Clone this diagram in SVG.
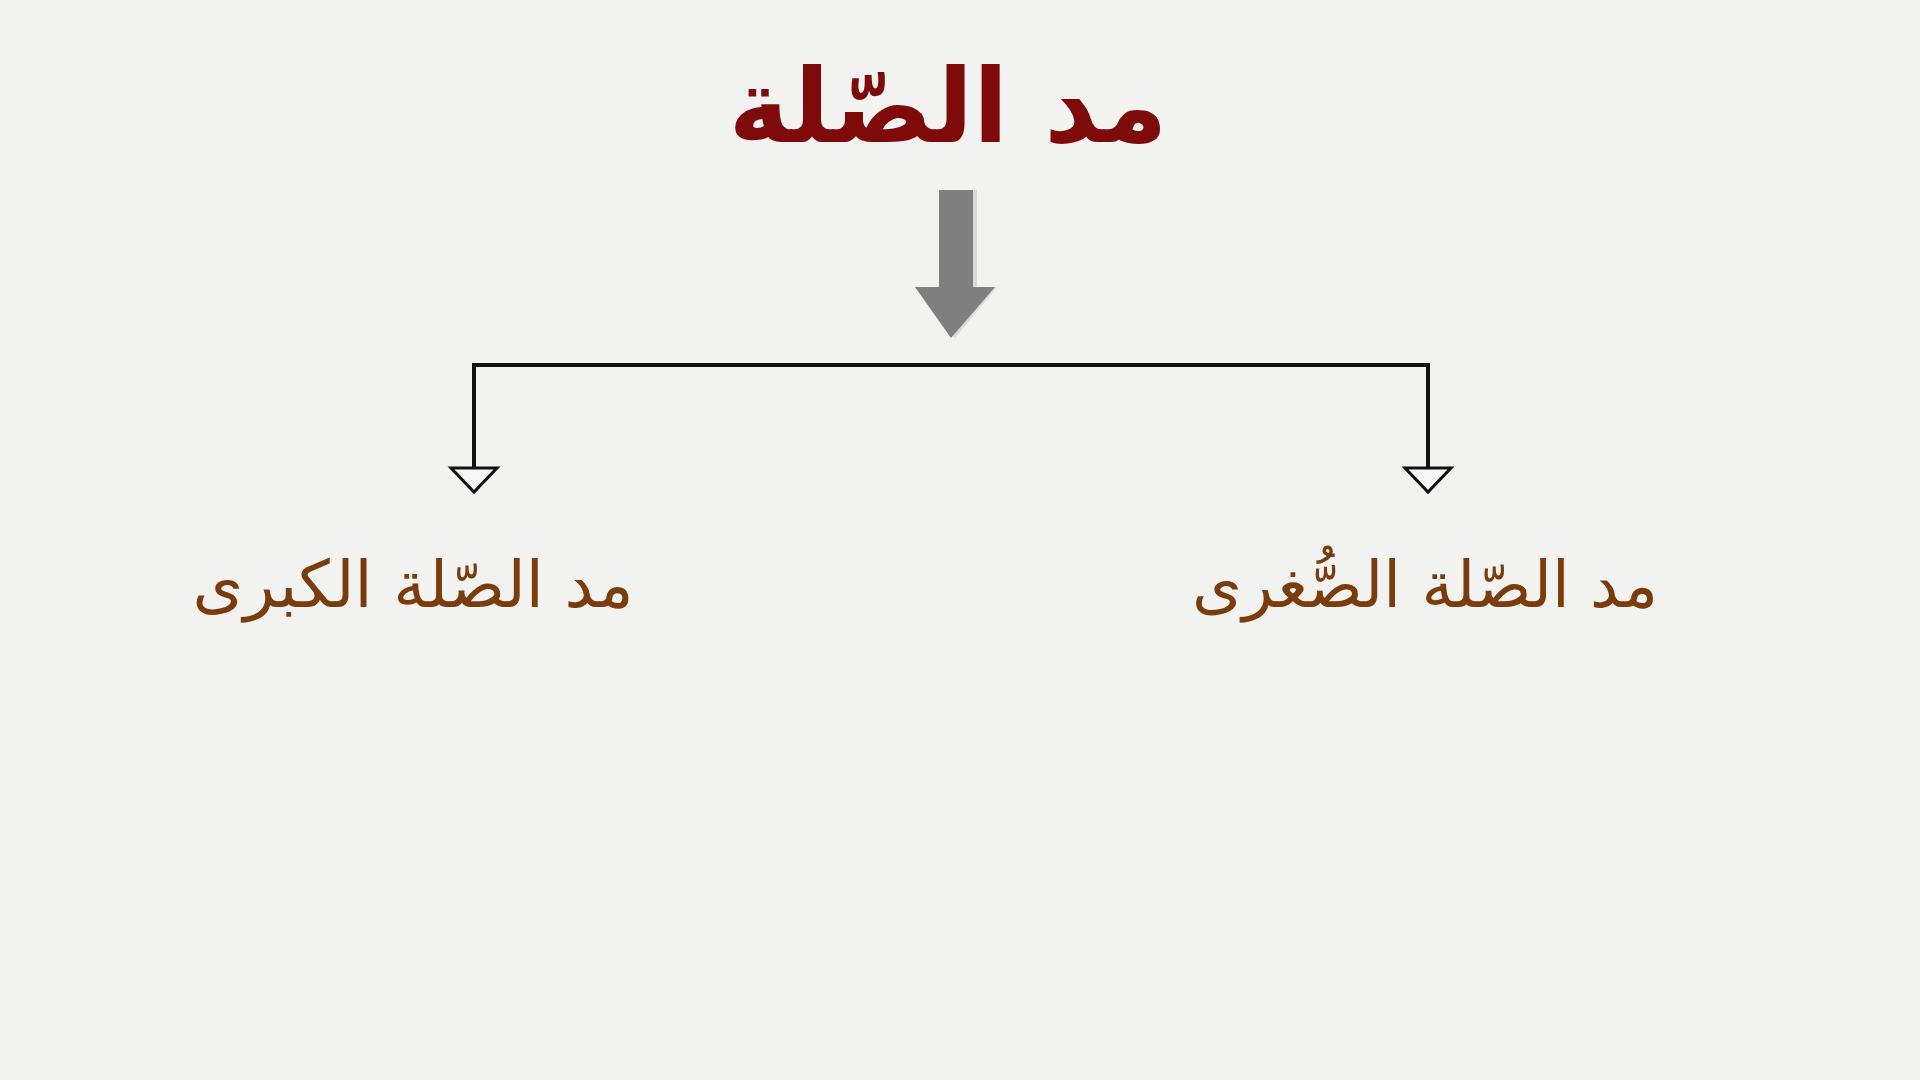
<svg xmlns="http://www.w3.org/2000/svg" width="1920" height="1080" viewBox="0 0 1920 1080">
<style>
.ar{font-family:"DejaVu Sans","Noto Sans",sans-serif;direction:rtl;text-anchor:middle}
.title{font-size:103px;fill:#7f0a0a;font-weight:bold}
.lab{fill:#7a3c0c}
.conn{stroke:#111;stroke-width:4;fill:none}
.tri{fill:#f6f6f6;stroke:#111;stroke-width:3;stroke-linejoin:miter}
</style>
<rect width="1920" height="1080" fill="#f2f2f1"/>
<g id="title"><text class="ar title" x="948" y="142">مد الصّلة</text></g>
<g id="big-arrow">
<polygon points="943,190 977,190 977,287 997,287 955,338 915,287 939,287 939,190" fill="#c8c8c8" opacity="0.6"/>
<polygon points="939,190 973,190 973,287 995,287 951,338 915,287 939,287" fill="#7f7f7f"/>
</g>
<g id="connectors">
<path class="conn" d="M474,468 V365 H1428 V468"/>
<polygon class="tri" points="451,468 497,468 474,492"/>
<polygon class="tri" points="1405,468 1451,468 1428,492"/>
</g>
<g id="left-node"><text class="ar lab" x="413" y="607" font-size="65">مد الصّلة الكبرى</text></g>
<g id="right-node"><text class="ar lab" x="1425" y="607" font-size="64">مد الصّلة الصُّغرى</text></g>
</svg>
